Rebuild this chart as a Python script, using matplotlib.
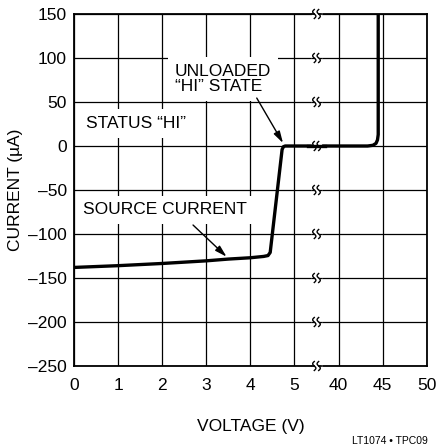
import numpy as np
import matplotlib
matplotlib.use('Agg')
import matplotlib.pyplot as plt
import matplotlib.transforms as mtransforms

plt.rcParams['font.family'] = ['Liberation Sans', 'DejaVu Sans']

# Output current vs. voltage of the status pin (axis broken between 5 V and 40 V)
volts = [0, 1, 2, 3, 3.5, 4, 4.3, 4.4, 4.45, 4.72, 4.75, 4.79,
         43.3, 43.9, 44.25, 44.42, 44.5, 44.5]
current = [-138, -136, -133.5, -130.5, -128.5, -127, -125.5, -124.5, -121, -4, -0.8, 0,
           0, 0.8, 3, 7, 13, 160]

x_tick_volts = [0, 1, 2, 3, 4, 5, 40, 45, 50]
x_tick_labels = ['0', '1', '2', '3', '4', '5', '40', '45', '50']
y_ticks = [150, 100, 50, 0, -50, -100, -150, -200, -250]


def to_pos(v):
    # piecewise scale: 0-5 V linear, 5-40 V squeezed into one division, 40-50 V over two
    v = np.asarray(v, dtype=float)
    return np.where(v <= 5, v, np.where(v < 40, 5 + (v - 5) / 35, 6 + (v - 40) / 5))


fig = plt.figure(figsize=(4.36, 4.46), dpi=100)
ax = fig.add_axes([0.1697, 0.1794, 0.8090, 0.7892])

ax.set_xlim(0, 8)
ax.set_ylim(-250, 150)
ax.set_xticks(to_pos(x_tick_volts))
ax.set_xticklabels(x_tick_labels)
ax.set_yticks(y_ticks)
ax.set_yticklabels([f'{t:d}'.replace('-', '\u2013') for t in y_ticks])
ax.tick_params(length=0, labelsize=12.5, pad=9)
ax.tick_params(axis='y', pad=5)
ax.grid(True, color='black', lw=0.9)
ax.set_axisbelow(True)
for s in ax.spines.values():
    s.set_linewidth(1.3)

ax.set_xlabel('VOLTAGE (V)', fontsize=12.5, labelpad=18.5)
ax.set_ylabel('CURRENT (\u00b5A)', fontsize=12.5, labelpad=4)

ax.plot(to_pos(volts), current, color='black', lw=2.4, solid_capstyle='round',
        solid_joinstyle='round', zorder=5)

# break marks on every horizontal grid line
t = np.linspace(0, 1, 40)
h = 9 / 100.0
amp = 1.6 / 100.0
for y in y_ticks:
    tr = fig.dpi_scale_trans + mtransforms.ScaledTranslation(5.5, y, ax.transData)
    lw = 1.3 if y in (150, -250) else 0.9
    ax.fill([-0.045, 0.045, 0.045, -0.045], [-0.02, -0.02, 0.02, 0.02],
            color='white', transform=tr, clip_on=False, zorder=6)
    for dx in (-0.022, 0.022):
        ax.plot(dx + amp * np.sin(2 * np.pi * t), h * (t - 0.5), color='black',
                lw=1.0, transform=tr, clip_on=False, zorder=7)
    ax.plot([-0.045, -0.022], [0, 0], color='black', lw=lw,
            transform=tr, clip_on=False, zorder=7)
    ax.plot([0.022, 0.045], [0, 0], color='black', lw=lw,
            transform=tr, clip_on=False, zorder=7)

# zero line continues across the break as part of the curve
ax.plot([5.3, 5.7], [0, 0], color='black', lw=2.4, zorder=8)

box = dict(facecolor='white', edgecolor='none', boxstyle='square,pad=0.4')
ax.text(2.29, 76, 'UNLOADED\n\u201cHI\u201d STATE', fontsize=12.5, ha='left', va='center',
        linespacing=1.0, bbox=box, zorder=4)
ax.text(0.27, 25.6, 'STATUS \u201cHI\u201d', fontsize=12.5, ha='left', va='center',
        bbox=box, zorder=4)
ax.text(0.20, -72.7, 'SOURCE CURRENT', fontsize=12.5, ha='left', va='center',
        bbox=box, zorder=4)

arrow = dict(arrowstyle='-|>,head_length=0.7,head_width=0.2', color='black', lw=1.0,
             shrinkA=0, shrinkB=0)
ax.annotate('', xy=(4.74, 3.4), xytext=(4.145, 54.5), arrowprops=arrow, zorder=9)
ax.annotate('', xy=(3.46, -125.8), xytext=(2.70, -89.8), arrowprops=arrow, zorder=9)

fig.text(0.982, 0.0, 'LT1074 \u2022 TPC09', fontsize=7.5, ha='right', va='bottom')

fig.savefig('out.png', dpi=100)
